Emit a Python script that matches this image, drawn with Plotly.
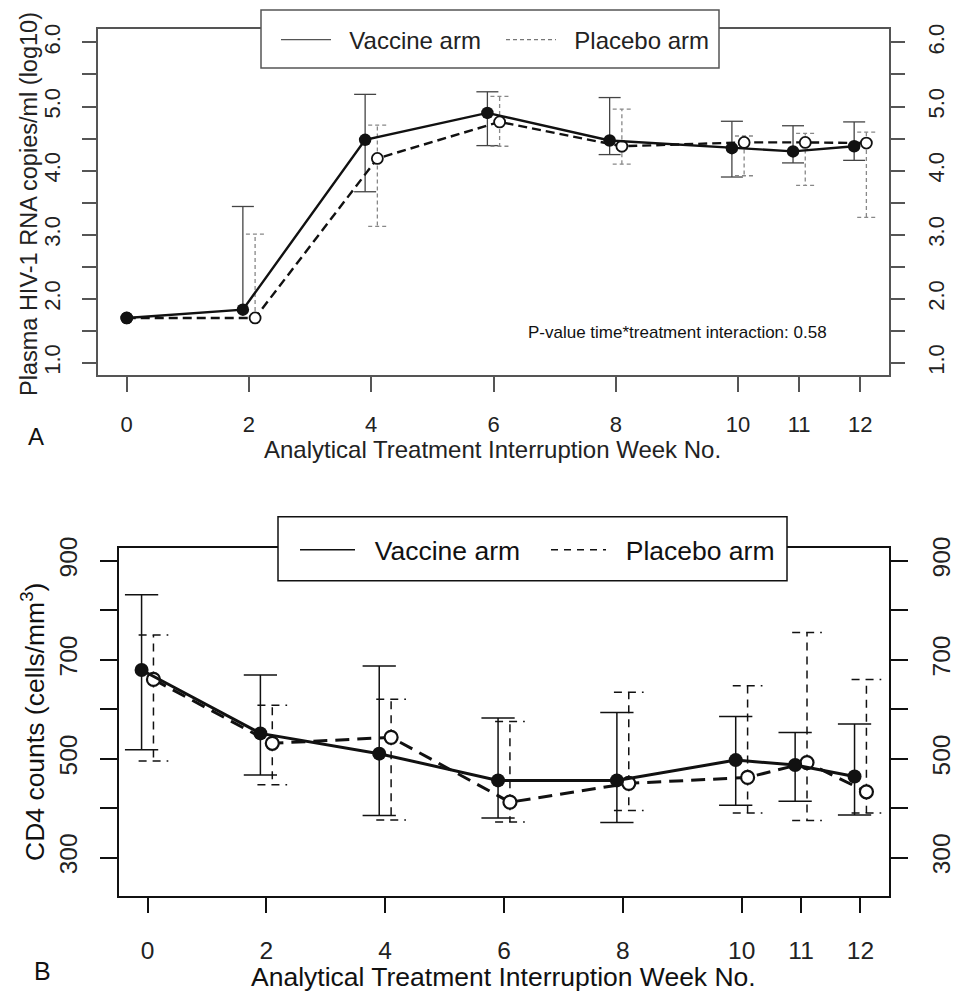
import plotly.graph_objects as go

# weeks of analytical treatment interruption
weeks = [0, 2, 4, 6, 8, 10, 11, 12]
week_labels = ['0', '2', '4', '6', '8', '10', '11', '12']

# panel A: plasma HIV-1 RNA (log10 copies/ml)
rna_vacc_mean = [1.70, 1.83, 4.48, 4.90, 4.47, 4.35, 4.30, 4.38]
rna_vacc_upper = [None, 3.44, 5.19, 5.23, 5.14, 4.77, 4.70, 4.76]
rna_vacc_lower = [None, None, 3.67, 4.39, 4.25, 3.90, 4.12, 4.16]
rna_plac_mean = [1.70, 1.70, 4.19, 4.76, 4.38, 4.44, 4.44, 4.43]
rna_plac_upper = [None, 3.01, 4.71, 5.16, 4.96, 4.54, 4.58, 4.60]
rna_plac_lower = [None, None, 3.13, 4.38, 4.10, 3.92, 3.77, 3.27]
rna_ticks = [1.0, 2.0, 3.0, 4.0, 5.0, 6.0]
rna_ticktext = ['1.0', '2.0', '3.0', '4.0', '5.0', '6.0']
rna_minor = [1.5, 2.5, 3.5, 4.5, 5.5]

# panel B: CD4 counts (cells/mm3)
cd4_vacc_mean = [679, 551, 510, 456, 456, 497, 487, 464]
cd4_vacc_upper = [831, 669, 687, 582, 593, 585, 553, 570]
cd4_vacc_lower = [518, 467, 385, 380, 371, 406, 414, 386]
cd4_plac_mean = [660, 531, 543, 412, 450, 462, 492, 433]
cd4_plac_upper = [750, 608, 620, 575, 634, 647, 755, 660]
cd4_plac_lower = [495, 447, 376, 372, 395, 390, 375, 390]
cd4_ticks = [300, 500, 700, 900]
cd4_ticktext = ['300', '500', '700', '900']
cd4_minor = [400, 600, 800]

FONT = 'Liberation Sans, Arial, sans-serif'
W, H = 959, 995
OFF = 8  # page body margin

def px(x):
	return (x - OFF) / W

def py(y):
	return (H - (y - OFF)) / H

def whiskers(x, mean, lo, hi, cap):
	'vertical bars from the mean to each limit, with a cap at the end'
	xs, ys = [], []
	for xi, m, l, h in zip(x, mean, lo, hi):
		for lim in (l, h):
			if lim is None:
				continue
			xs += [xi, xi, None, xi - cap, xi + cap, None]
			ys += [m, lim, None, lim, lim, None]
	return xs, ys

dodgeA = [0, 0.1, 0.1, 0.1, 0.1, 0.1, 0.1, 0.1]
dodgeB = [0.1] * len(weeks)
xA_v = [w - d for w, d in zip(weeks, dodgeA)]
xA_p = [w + d for w, d in zip(weeks, dodgeA)]
xB_v = [w - d for w, d in zip(weeks, dodgeB)]
xB_p = [w + d for w, d in zip(weeks, dodgeB)]

fig = go.Figure()

# ---- panel A
ex, ey = whiskers(xA_v, rna_vacc_mean, rna_vacc_lower, rna_vacc_upper, 0.18)
fig.add_trace(go.Scatter(x=ex, y=ey, mode='lines', line=dict(color='#444', width=1.3),
	showlegend=False, hoverinfo='skip', xaxis='x', yaxis='y'))
ex, ey = whiskers(xA_p, rna_plac_mean, rna_plac_lower, rna_plac_upper, 0.15)
fig.add_trace(go.Scatter(x=ex, y=ey, mode='lines', line=dict(color='#888', width=1.3, dash='4px,3px'),
	showlegend=False, hoverinfo='skip', xaxis='x', yaxis='y'))
fig.add_trace(go.Scatter(x=xA_p, y=rna_plac_mean, mode='lines+markers',
	line=dict(color='#111', width=2.4, dash='9px,5px'),
	marker=dict(symbol='circle', size=11, color='white', line=dict(color='#111', width=1.8)),
	showlegend=False, xaxis='x', yaxis='y'))
fig.add_trace(go.Scatter(x=xA_v, y=rna_vacc_mean, mode='lines+markers',
	line=dict(color='#111', width=2.4),
	marker=dict(symbol='circle', size=12.5, color='#111'),
	showlegend=False, xaxis='x', yaxis='y'))
# invisible copy so the right-hand axis gets drawn
fig.add_trace(go.Scatter(x=xA_v, y=rna_vacc_mean, mode='markers', marker=dict(opacity=0),
	showlegend=False, hoverinfo='skip', xaxis='x', yaxis='y3'))
# legend samples
fig.add_trace(go.Scatter(x=[None], y=[None], mode='lines', name='\u00a0\u00a0Vaccine arm',
	line=dict(color='#555', width=1.3), legend='legend', xaxis='x', yaxis='y'))
fig.add_trace(go.Scatter(x=[None], y=[None], mode='lines', name='\u00a0\u00a0Placebo arm',
	line=dict(color='#777', width=1.3, dash='4px,3px'), legend='legend', xaxis='x', yaxis='y'))

# ---- panel B
ex, ey = whiskers(xB_v, cd4_vacc_mean, cd4_vacc_lower, cd4_vacc_upper, 0.28)
fig.add_trace(go.Scatter(x=ex, y=ey, mode='lines', line=dict(color='#111', width=1.5),
	showlegend=False, hoverinfo='skip', xaxis='x2', yaxis='y2'))
ex, ey = whiskers(xB_p, cd4_plac_mean, cd4_plac_lower, cd4_plac_upper, 0.25)
fig.add_trace(go.Scatter(x=ex, y=ey, mode='lines', line=dict(color='#111', width=1.5, dash='8px,6px'),
	showlegend=False, hoverinfo='skip', xaxis='x2', yaxis='y2'))
fig.add_trace(go.Scatter(x=xB_p, y=cd4_plac_mean, mode='lines+markers',
	line=dict(color='#111', width=3, dash='14px,8px'),
	marker=dict(symbol='circle', size=13, color='white', line=dict(color='#111', width=2.2)),
	showlegend=False, xaxis='x2', yaxis='y2'))
fig.add_trace(go.Scatter(x=xB_v, y=cd4_vacc_mean, mode='lines+markers',
	line=dict(color='#111', width=3),
	marker=dict(symbol='circle', size=14, color='#111'),
	showlegend=False, xaxis='x2', yaxis='y2'))
fig.add_trace(go.Scatter(x=xB_v, y=cd4_vacc_mean, mode='markers', marker=dict(opacity=0),
	showlegend=False, hoverinfo='skip', xaxis='x2', yaxis='y4'))
fig.add_trace(go.Scatter(x=[None], y=[None], mode='lines', name='\u00a0\u00a0Vaccine arm',
	line=dict(color='#111', width=1.6), legend='legend2', xaxis='x2', yaxis='y2'))
fig.add_trace(go.Scatter(x=[None], y=[None], mode='lines', name='\u00a0\u00a0Placebo arm',
	line=dict(color='#111', width=1.6, dash='7px,6px'), legend='legend2', xaxis='x2', yaxis='y2'))

def xaxis(domain, rng, color, ticklen, anchor, standoff, fsize):
	return dict(domain=domain, range=rng, tickvals=weeks, ticktext=week_labels,
		showgrid=False, zeroline=False, showline=True, mirror=True, anchor=anchor,
		linecolor=color, linewidth=1.5, ticks='outside', ticklen=ticklen,
		tickcolor=color, tickwidth=1.5, ticklabelstandoff=standoff,
		tickfont=dict(family=FONT, size=fsize, color='#222'))

def yaxis(domain, rng, vals, text, minor, color, ticklen, side, anchor, standoff, fsize, overlaying=None):
	d = dict(domain=domain, range=rng, tickvals=vals, ticktext=text,
		minor=dict(tickvals=minor, ticks='outside', ticklen=ticklen, tickcolor=color,
			tickwidth=1.5, showgrid=False),
		showgrid=False, zeroline=False, showline=True, mirror=True,
		linecolor=color, linewidth=1.5, ticks='outside', ticklen=ticklen,
		tickcolor=color, tickwidth=1.5, tickangle=-90, ticklabelstandoff=standoff,
		tickfont=dict(family=FONT, size=fsize, color='#222'), side=side, anchor=anchor)
	if overlaying:
		d['overlaying'] = overlaying
	return d

domA_x = [px(98), px(889)]
domA_y = [py(375), py(29)]
domB_x = [px(119), px(889)]
domB_y = [py(895.7), py(548.3)]

def note(text, x, y, size=24, angle=0, color='#111'):
	return dict(text=text, xref='paper', yref='paper', x=px(x), y=py(y),
		xanchor='center', yanchor='middle', textangle=angle, showarrow=False,
		font=dict(family=FONT, size=size, color=color))

fig.update_layout(
	width=W, height=H,
	margin=dict(l=0, r=0, t=0, b=0, autoexpand=False),
	paper_bgcolor='white', plot_bgcolor='white',
	font=dict(family=FONT, size=22, color='#222'),
	xaxis=xaxis(domA_x, [-0.47, 12.47], '#555', 15, 'y', 14, 22),
	yaxis=yaxis(domA_y, [0.81, 6.21], rna_ticks, rna_ticktext, rna_minor, '#555', 14, 'left', 'x', 13, 22),
	yaxis3=yaxis(domA_y, [0.81, 6.21], rna_ticks, rna_ticktext, rna_minor, '#555', 14, 'right', 'x', 13, 22, 'y'),
	xaxis2=xaxis(domB_x, [-0.48, 12.48], '#111', 16, 'y2', 16, 24.5),
	yaxis2=yaxis(domB_y, [223, 925], cd4_ticks, cd4_ticktext, cd4_minor, '#111', 17, 'left', 'x2', 13, 24.5),
	yaxis4=yaxis(domB_y, [223, 925], cd4_ticks, cd4_ticktext, cd4_minor, '#111', 17, 'right', 'x2', 13, 24.5, 'y2'),
	legend=dict(orientation='h', x=px(276), xanchor='left', y=py(40), yanchor='middle',
		bgcolor='rgba(0,0,0,0)', borderwidth=0, itemwidth=50, entrywidth=160,
		font=dict(family=FONT, size=24, color='#222')),
	legend2=dict(orientation='h', x=px(295), xanchor='left', y=py(550), yanchor='middle',
		bgcolor='rgba(0,0,0,0)', borderwidth=0, itemwidth=55, entrywidth=181,
		font=dict(family=FONT, size=26.5, color='#111')),
	shapes=[
		dict(type='rect', xref='paper', yref='paper', x0=px(261), x1=px(719), y0=py(68), y1=py(10),
			fillcolor='white', line=dict(color='#555', width=1.5), layer='above'),
		dict(type='rect', xref='paper', yref='paper', x0=px(278), x1=px(787), y0=py(580.7), y1=py(516.7),
			fillcolor='white', line=dict(color='#111', width=1.5), layer='above'),
	],
	annotations=[
		note('P-value time*treatment interaction: 0.58', 677, 332, size=17),
		note('Analytical Treatment Interruption Week No.', 492, 450, color='#222'),
		note('Analytical Treatment Interruption Week No.', 503, 977, size=26.5),
		note('Plasma HIV-1 RNA copies/ml (log10)', 29, 204, size=23.5, angle=-90, color='#222'),
		note('CD4 counts (cells/mm<sup>3</sup>)', 33, 722, size=26.5, angle=-90),
		note('A', 36, 437),
		note('B', 42, 971, size=25),
	],
)

fig.write_html("out.html")
